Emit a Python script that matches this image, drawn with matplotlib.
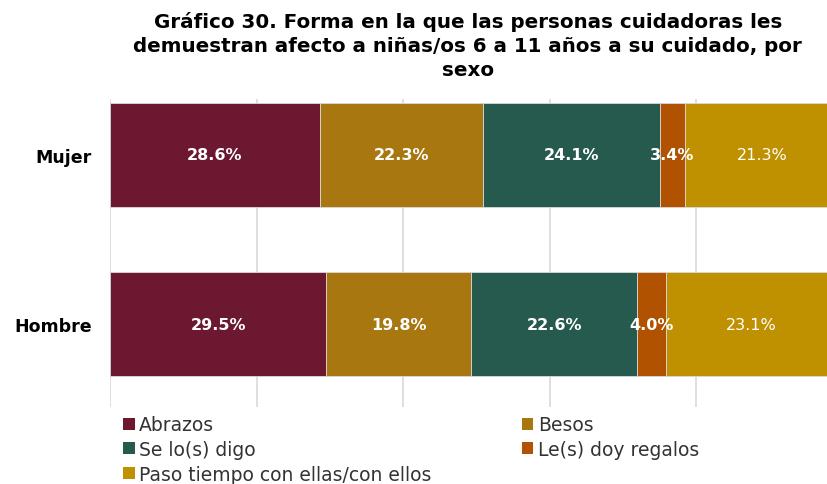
import numpy as np
import matplotlib
matplotlib.use("Agg")
import matplotlib.pyplot as plt
from matplotlib.patches import Patch

# ── data ──────────────────────────────────────────────────────────────────────
groups = ["Hombre", "Mujer"]
series = ["Abrazos", "Besos", "Se lo(s) digo", "Le(s) doy regalos",
          "Paso tiempo con ellas/con ellos"]
abrazos = [29.5, 28.6]
besos = [19.8, 22.3]
digo = [22.6, 24.1]
regalos = [4.0, 3.4]
tiempo = [23.1, 21.3]

colors = ["#6B1830", "#A8770F", "#265A4E", "#B05200", "#BF9000"]

# ── figure ────────────────────────────────────────────────────────────────────
fig = plt.figure(figsize=(8.28, 4.85), dpi=100)
ax = fig.add_axes([110 / 828, 1 - 408 / 485, 733 / 828, 308 / 485])

values = [abrazos, besos, digo, regalos, tiempo]
y = np.arange(len(groups))
left = np.zeros(len(groups))
for i, (vals, col) in enumerate(zip(values, colors)):
    vals = np.array(vals)
    ax.barh(y, vals, left=left, height=0.615, color=col,
            edgecolor="#d9d9d9", linewidth=0.6, zorder=2)
    for yy, l, v in zip(y, left, vals):
        ax.text(l + v / 2, yy, f"{v:.1f}%", ha="center", va="center",
                color="white", fontsize=11.5,
                fontweight="normal" if i == 4 else "bold", zorder=3)
    left += vals

ax.set_xlim(0, 100)
ax.set_ylim(-0.49, 1.33)
ax.set_xticks([0, 20, 40, 60, 80, 100])
ax.grid(axis="x", color="#d9d9d9", linewidth=1.2, zorder=0)
ax.tick_params(axis="x", length=0, labelbottom=False)
ax.tick_params(axis="y", length=0, pad=13)
ax.set_yticks(y)
ax.set_yticklabels(groups, fontsize=12.5, fontweight="bold")
for s in ax.spines.values():
    s.set_visible(False)

fig.text(0.565, 0.975,
         "Gráfico 30. Forma en la que las personas cuidadoras les\n"
         "demuestran afecto a niñas/os 6 a 11 años a su cuidado, por\nsexo",
         ha="center", va="top", fontsize=14.3, fontweight="bold",
         linespacing=1.32)

# legend laid out row-wise across two columns
order = [0, 2, 4, 1, 3]
handles = [Patch(facecolor=colors[k], label=series[k]) for k in order]
fig.legend(handles=handles, loc="upper left", bbox_to_anchor=(0.14, 0.157),
           ncol=2, frameon=False, fontsize=13.5, handlelength=0.6,
           handleheight=0.6, handletextpad=0.25, columnspacing=4.8,
           labelspacing=0.3, borderaxespad=0, labelcolor="#333333")

fig.savefig("out.png", dpi=100)
